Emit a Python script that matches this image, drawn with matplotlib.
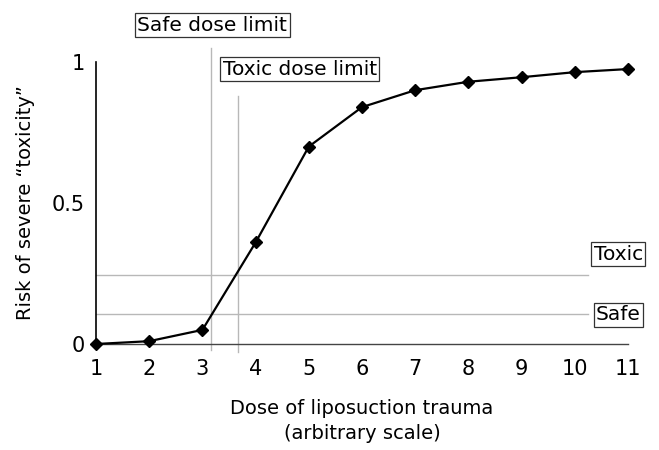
import matplotlib
matplotlib.use("Agg")
import matplotlib.pyplot as plt

# dose (arbitrary scale) vs risk of severe toxicity
dose = [1, 2, 3, 4, 5, 6, 7, 8, 9, 10, 11]
risk = [0.0, 0.01, 0.05, 0.36, 0.70, 0.84, 0.90, 0.93, 0.946, 0.964, 0.975]

safe_level = 0.107
toxic_level = 0.246
safe_dose = 3.16
toxic_dose = 3.66

x_ticks = [1, 2, 3, 4, 5, 6, 7, 8, 9, 10, 11]
y_ticks = [0, 0.5, 1]
y_tick_labels = ["0", "0.5", "1"]

plt.rcParams["font.family"] = ["DejaVu Sans"]

fig = plt.figure(figsize=(6.59, 4.5), dpi=100)
ax = fig.add_axes([96 / 659, 1 - 344 / 450, (628 - 96) / 659, (344 - 62) / 450])

grey = "#b8b8b8"
box = dict(boxstyle="square,pad=0.12", fc="white", ec="#333333", lw=0.9)

# reference levels (horizontal) and dose limits (vertical)
ax.plot([1, 10.25], [toxic_level, toxic_level], color=grey, lw=1.0, clip_on=False)
ax.plot([1, 10.25], [safe_level, safe_level], color=grey, lw=1.0, clip_on=False)
ax.plot([safe_dose, safe_dose], [-0.02, 1.05], color=grey, lw=1.0, clip_on=False)
ax.plot([toxic_dose, toxic_dose], [-0.03, 0.88], color=grey, lw=1.0, clip_on=False)

ax.plot(dose, risk, color="black", lw=1.6, marker="D", ms=6.5, clip_on=False, zorder=5)

ax.text(1.78, 1.13, "Safe dose limit", fontsize=14.5, ha="left", va="center", bbox=box)
ax.text(3.38, 0.975, "Toxic dose limit", fontsize=14.5, ha="left", va="center", bbox=box)
ax.text(10.82, 0.318, "Toxic", fontsize=14.5, ha="center", va="center", bbox=box)
ax.text(10.82, 0.104, "Safe", fontsize=14.5, ha="center", va="center", bbox=box)

ax.set_xlim(1, 11)
ax.set_ylim(0, 1)
ax.set_xticks(x_ticks)
ax.set_yticks(y_ticks)
ax.set_yticklabels(y_tick_labels)
ax.tick_params(length=0, labelsize=15)
ax.tick_params(axis="x", pad=11)
ax.tick_params(axis="y", pad=8)
for side in ["top", "right"]:
    ax.spines[side].set_visible(False)
ax.spines["left"].set_linewidth(1.2)
ax.spines["bottom"].set_linewidth(1.0)
ax.spines["bottom"].set_color("#444444")

ax.set_xlabel("Dose of liposuction trauma\n(arbitrary scale)", fontsize=14, labelpad=14, linespacing=1.45)
ax.set_ylabel("Risk of severe \u201ctoxicity\u201d", fontsize=14, labelpad=12)

fig.savefig("out.png", dpi=100)
